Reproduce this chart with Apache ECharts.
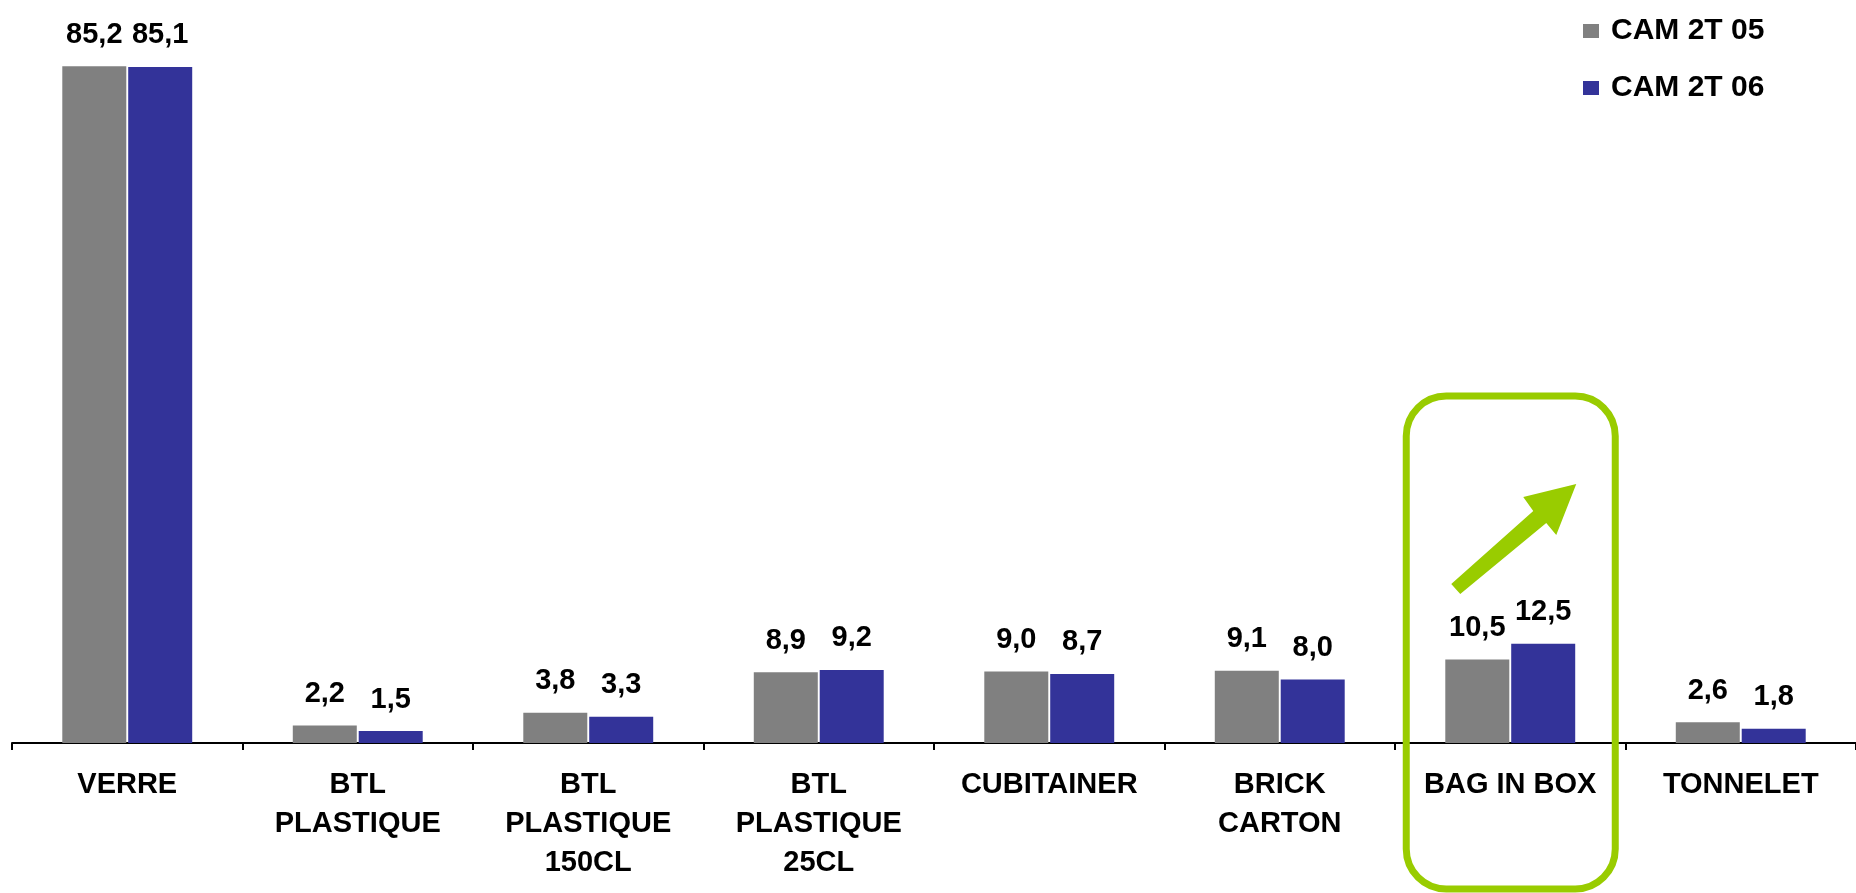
<!DOCTYPE html>
<html>
<head>
<meta charset="utf-8">
<script src="https://cdn.jsdelivr.net/npm/echarts@6/dist/echarts.min.js"></script>
<style>
  html, body { margin: 0; padding: 0; background: #ffffff; }
  #chart { width: 1856px; height: 893px; }
</style>
</head>
<body>
<div id="chart"></div>
<script>
const categories = ['VERRE', 'BTL\nPLASTIQUE', 'BTL\nPLASTIQUE\n150CL', 'BTL\nPLASTIQUE\n25CL', 'CUBITAINER', 'BRICK\nCARTON', 'BAG IN BOX', 'TONNELET'];
const seriesNames = ['CAM 2T 05', 'CAM 2T 06'];
const cam2t05 = [85.2, 2.2, 3.8, 8.9, 9.0, 9.1, 10.5, 2.6];
const cam2t06 = [85.1, 1.5, 3.3, 9.2, 8.7, 8.0, 12.5, 1.8];
const highlightCategory = 'BAG IN BOX';

const FONT = "'Liberation Sans', Arial, sans-serif";
const chart = echarts.init(document.getElementById('chart'), null, { renderer: 'canvas' });

const labelCfg = {
  show: true,
  position: 'top',
  distance: 17,
  color: '#000',
  fontFamily: FONT,
  fontWeight: 'bold',
  fontSize: 29,
  formatter: p => p.value.toFixed(1).replace('.', ',')
};

chart.setOption({
  animation: false,
  backgroundColor: '#ffffff',
  grid: { left: 12, top: 28, width: 1850, height: 715, containLabel: false },
  legend: {
    orient: 'vertical',
    left: 1578,
    top: 11,
    icon: 'rect',
    itemWidth: 16,
    itemHeight: 14,
    itemGap: 27,
    textStyle: {
      fontFamily: FONT, fontWeight: 'bold', fontSize: 30, color: '#000',
      lineHeight: 28, padding: [0, 0, 0, 7]
    },
    data: seriesNames
  },
  xAxis: {
    type: 'category',
    data: categories,
    boundaryGap: true,
    axisLine: { show: true, lineStyle: { color: '#000', width: 2 } },
    axisTick: { show: true, length: 7, lineStyle: { color: '#000', width: 2 } },
    axisLabel: {
      interval: 0,
      margin: 22,
      color: '#000',
      fontFamily: FONT,
      fontWeight: 'bold',
      fontSize: 29,
      lineHeight: 39,
      align: 'center'
    },
    splitLine: { show: false }
  },
  yAxis: {
    type: 'value',
    min: 0,
    max: 90,
    show: false,
    splitLine: { show: false }
  },
  series: [
    {
      name: seriesNames[0],
      type: 'bar',
      data: cam2t05,
      barWidth: 64,
      barGap: '3%',
      itemStyle: { color: '#808080' },
      label: labelCfg
    },
    {
      name: seriesNames[1],
      type: 'bar',
      data: cam2t06,
      barWidth: 64,
      barGap: '3%',
      itemStyle: { color: '#333399' },
      label: labelCfg
    }
  ]
});

// Annotation: green rounded box and arrow around the highlighted category
const cx = chart.convertToPixel({ xAxisIndex: 0 }, highlightCategory);
const y0 = chart.convertToPixel({ yAxisIndex: 0 }, 0);
const rel = pts => pts.map(p => [cx + p[0], y0 + p[1]]);
chart.setOption({
  graphic: [
    {
      type: 'rect',
      shape: { x: cx - 104, y: y0 - 347, width: 209, height: 493, r: 40 },
      style: { fill: 'none', stroke: '#99cc00', lineWidth: 7 },
      z: 100
    },
    {
      type: 'polygon',
      shape: {
        points: rel([
          [-59, -159], [23, -232], [13, -246], [66, -259],
          [46, -208], [36, -220], [-50, -149]
        ])
      },
      style: { fill: '#99cc00' },
      z: 100
    }
  ]
});
</script>
</body>
</html>
